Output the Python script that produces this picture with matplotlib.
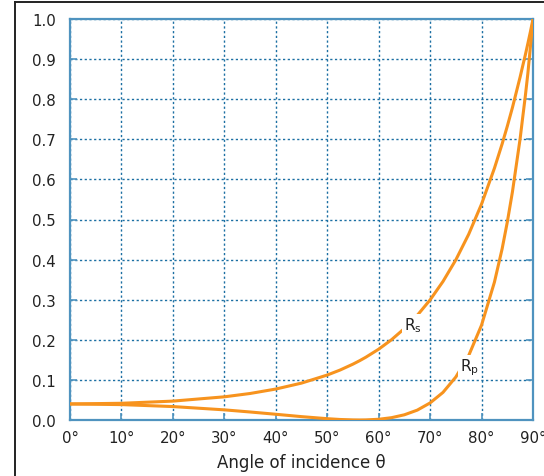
import matplotlib
matplotlib.use("Agg")
import matplotlib.pyplot as plt
from matplotlib.lines import Line2D

# Data
angles = [0, 10, 20, 30, 35, 40, 45, 50, 52.5, 55, 56.3, 57.5, 60, 62.5, 65, 67.5,
          70, 72.5, 75, 77.5, 80, 82.5, 84, 85, 86, 87.5, 88, 88.5, 89, 89.5, 90]
rs = [0.040, 0.0417, 0.0471, 0.0578, 0.0661, 0.0772, 0.0920, 0.1121, 0.1246, 0.1393,
      0.1479, 0.1565, 0.1766, 0.2002, 0.2281, 0.2609, 0.2996, 0.3454, 0.3994, 0.4632,
      0.5386, 0.6278, 0.6885, 0.7324, 0.7790, 0.8555, 0.8830, 0.9099, 0.9388, 0.9685,
      1.0]
rp = [0.040, 0.0384, 0.0335, 0.0253, 0.0200, 0.0143, 0.0084, 0.0033, 0.0013, 0.0002,
      0.0, 0.0002, 0.0018, 0.0058, 0.0130, 0.0246, 0.0426, 0.0688, 0.1072, 0.1607,
      0.2367, 0.3437, 0.4269, 0.4932, 0.5688, 0.7018, 0.7548, 0.8069, 0.8641, 0.9314,
      1.0]
xticks = [0, 10, 20, 30, 40, 50, 60, 70, 80, 90]
xticklabels = ["0°", "10°", "20°", "30°", "40°", "50°", "60°", "70°", "80°", "90°"]
yticks = [0.0, 0.1, 0.2, 0.3, 0.4, 0.5, 0.6, 0.7, 0.8, 0.9, 1.0]

orange = "#f7931e"
spine_c = "#4f93bf"
grid_c = "#1b6fa3"

fig = plt.figure(figsize=(5.44, 4.77), dpi=100)
ax = fig.add_axes([70/544, 56/477, 463/544, 401/477])

ax.plot(angles, rs, color=orange, lw=2.2, solid_capstyle="round",
        solid_joinstyle="round", zorder=3)
ax.plot(angles, rp, color=orange, lw=2.2, solid_capstyle="round",
        solid_joinstyle="round", zorder=3)

ax.set_xlim(0, 90)
ax.set_ylim(0, 1.0)
ax.set_xticks(xticks)
ax.set_xticklabels(xticklabels)
ax.set_yticks(yticks)
ax.set_yticklabels([f"{v:.1f}" for v in yticks])

ax.grid(True, color=grid_c, linestyle=(0, (1.6, 1.8)), linewidth=1.0, zorder=1)
for s in ax.spines.values():
    s.set_color(spine_c)
    s.set_linewidth(1.6)

ax.tick_params(axis="y", direction="in", length=5, width=1.2, color=spine_c,
               right=True, labelsize=10.8, pad=10, labelcolor="#222222")
ax.tick_params(axis="x", direction="in", length=5, width=1.2, color=spine_c,
               labelsize=10.8, pad=7, labelcolor="#222222")

ax.set_xlabel("Angle of incidence θ", fontsize=12, color="#222222", labelpad=6)

bbox = dict(boxstyle="square,pad=0.12", fc="white", ec="none")
ax.text(66.7, 0.237, r"R$_\mathregular{s}$", fontsize=11, ha="center", va="center",
        bbox=bbox, zorder=4, color="#222222")
ax.text(77.6, 0.133, r"R$_\mathregular{p}$", fontsize=11, ha="center", va="center",
        bbox=bbox, zorder=4, color="#222222")

# outer frame lines (partially visible in the reference)
fig.add_artist(Line2D([15/544, 15/544], [0, 1 - 3/477], transform=fig.transFigure,
                      color="#222222", lw=1.4))
fig.add_artist(Line2D([15/544, 1], [1 - 3/477, 1 - 3/477], transform=fig.transFigure,
                      color="#222222", lw=1.4))

fig.savefig("out.png", dpi=100)
